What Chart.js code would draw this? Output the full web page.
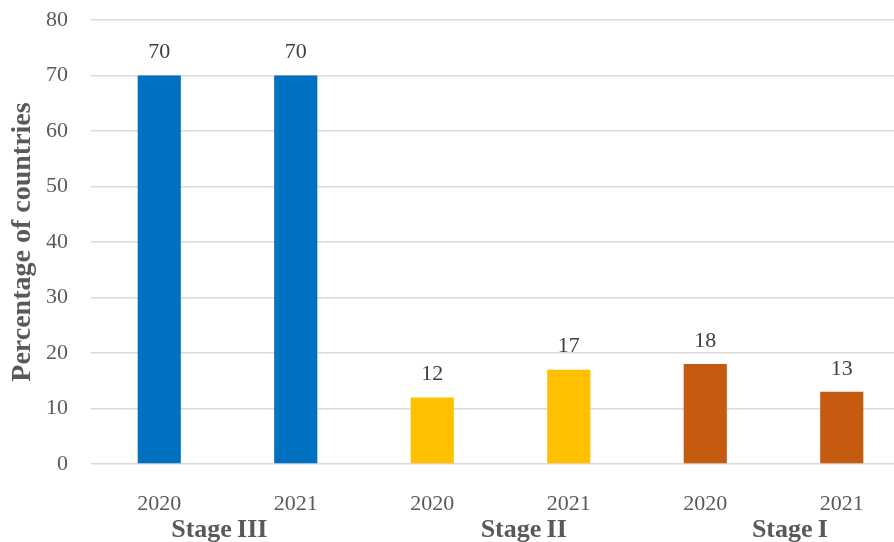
<!DOCTYPE html>
<html>
<head>
<meta charset="utf-8">
<script src="https://cdn.jsdelivr.net/npm/chart.js@4"></script>
<style>
  html, body { margin: 0; padding: 0; background: #fff; overflow: hidden; }
  #wrap { width: 894px; height: 542px; overflow: hidden; }
</style>
</head>
<body>
<div id="wrap"><canvas id="stageChart" width="910" height="542"></canvas></div>
<script>
// Data
const years = ['2020', '2021', '2020', '2021', '2020', '2021'];
const percentages = [70, 70, 12, 17, 18, 13];
const barColors = ['#0070C0', '#0070C0', '#FFC000', '#FFC000', '#C55A11', '#C55A11'];
const stageNames = ['Stage\u2009III', 'Stage\u2009II', 'Stage\u2009I'];
// where each stage name sits, in category units
const stagePos = [0.44, 2.67, 4.62];
const yTicks = [0, 10, 20, 30, 40, 50, 60, 70, 80];

const serif = '"Liberation Serif", "Times New Roman", serif';
const textGray = '#595959';

// value labels above bars
const valueLabels = {
  id: 'valueLabels',
  afterDatasetsDraw(chart) {
    const ctx = chart.ctx;
    const meta = chart.getDatasetMeta(0);
    ctx.save();
    ctx.font = '22px ' + serif;
    ctx.fillStyle = '#404040';
    ctx.textAlign = 'center';
    ctx.textBaseline = 'middle';
    meta.data.forEach((bar, i) => {
      ctx.fillText(String(percentages[i]), bar.x, bar.y - 23);
    });
    ctx.restore();
  }
};

// second level of the category axis (stage names)
const stageLabels = {
  id: 'stageLabels',
  afterDraw(chart) {
    const ctx = chart.ctx;
    const xs = chart.scales.x;
    const x0 = xs.getPixelForValue(0);
    const step = xs.getPixelForValue(1) - x0;
    ctx.save();
    ctx.font = 'bold 26px ' + serif;
    ctx.fillStyle = textGray;
    ctx.textAlign = 'center';
    ctx.textBaseline = 'middle';
    stageNames.forEach((name, i) => {
      ctx.fillText(name, x0 + stagePos[i] * step, chart.chartArea.bottom + 66);
    });
    ctx.restore();
  }
};

new Chart(document.getElementById('stageChart').getContext('2d'), {
  type: 'bar',
  data: {
    labels: years,
    datasets: [{
      data: percentages,
      backgroundColor: barColors,
      categoryPercentage: 1,
      barPercentage: 0.316
    }]
  },
  options: {
    responsive: false,
    animation: false,
    layout: { padding: { top: 20, left: 0, right: 0, bottom: 0 } },
    plugins: {
      legend: { display: false },
      tooltip: { enabled: false }
    },
    scales: {
      x: {
        grid: { display: false },
        border: { display: false },
        ticks: {
          color: textGray,
          font: { family: serif, size: 22 },
          padding: 19
        },
        afterFit(scale) { scale.height = 78; }
      },
      y: {
        min: 0,
        max: 80,
        afterBuildTicks(scale) { scale.ticks = yTicks.map(v => ({ value: v })); },
        grid: { color: '#d9d9d9', lineWidth: 1.6, drawTicks: false },
        border: { display: false },
        ticks: {
          color: textGray,
          font: { family: serif, size: 22 },
          padding: 23
        },
        title: {
          display: true,
          text: 'Percentage of countries',
          color: textGray,
          font: { family: serif, size: 28, weight: 'bold' },
          padding: { top: 6, bottom: 0 }
        },
        afterFit(scale) {
          scale.width = 91;
          scale.paddingTop = 0;
          scale.paddingBottom = 0;
        }
      }
    }
  },
  plugins: [valueLabels, stageLabels]
});
</script>
</body>
</html>
